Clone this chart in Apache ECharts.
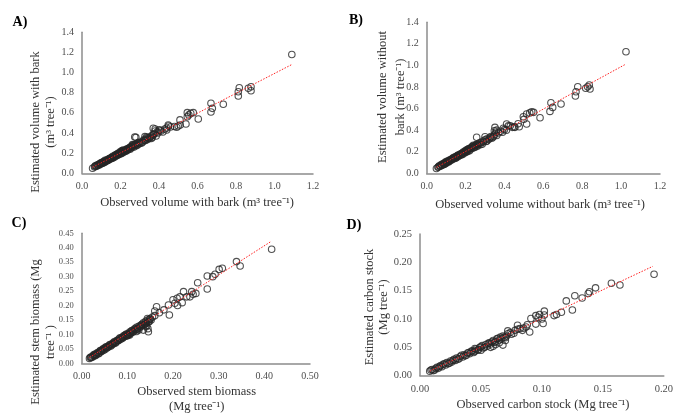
<!DOCTYPE html>
<html><head><meta charset="utf-8">
<script src="https://cdn.jsdelivr.net/npm/echarts@6/dist/echarts.min.js"></script>
<style>html,body{margin:0;padding:0;background:#fff}#c{width:676px;height:414px}</style>
</head><body><div id="c"></div>
<script>
// Panel A: observed vs estimated volume with bark
const pointsA = [
[0.055,0.05],[0.065,0.062],[0.07,0.075],[0.075,0.07],[0.08,0.085],[0.085,0.08],[0.09,0.092],[0.095,0.1],[0.1,0.095],[0.1,0.105],
[0.105,0.11],[0.11,0.105],[0.115,0.12],[0.12,0.115],[0.12,0.13],[0.125,0.125],[0.13,0.135],[0.135,0.13],[0.14,0.145],[0.14,0.135],
[0.145,0.15],[0.15,0.148],[0.155,0.16],[0.16,0.155],[0.16,0.17],[0.165,0.165],[0.17,0.175],[0.175,0.17],[0.18,0.185],[0.185,0.18],
[0.19,0.195],[0.19,0.2],[0.195,0.19],[0.2,0.205],[0.2,0.215],[0.205,0.2],[0.21,0.22],[0.21,0.21],[0.215,0.23],[0.22,0.215],
[0.225,0.225],[0.23,0.235],[0.235,0.23],[0.24,0.245],[0.245,0.25],[0.25,0.24],[0.255,0.265],[0.26,0.27],[0.265,0.28],[0.27,0.26],
[0.275,0.285],[0.28,0.29],[0.285,0.275],[0.274,0.36],[0.29,0.3],[0.3,0.295],[0.305,0.31],[0.31,0.3],[0.32,0.33],[0.325,0.325],
[0.33,0.34],[0.335,0.36],[0.34,0.335],[0.345,0.35],[0.35,0.345],[0.36,0.37],[0.365,0.355],[0.37,0.38],[0.375,0.39],[0.38,0.44],
[0.38,0.42],[0.385,0.37],[0.39,0.41],[0.395,0.4],[0.4,0.43],[0.41,0.42],[0.42,0.41],[0.43,0.44],[0.44,0.45],[0.45,0.47],
[0.46,0.46],[0.48,0.465],[0.5,0.47],[0.51,0.48],
[0.068,0.07],[0.078,0.075],[0.088,0.088],[0.092,0.085],[0.098,0.098],[0.108,0.1],[0.112,0.115],[0.118,0.11],[0.128,0.122],[0.132,0.128],
[0.138,0.14],[0.148,0.142],[0.152,0.155],[0.158,0.15],[0.168,0.16],[0.172,0.18],[0.178,0.178],[0.182,0.19],[0.188,0.185],[0.198,0.2],
[0.202,0.195],[0.208,0.225],[0.212,0.205],[0.218,0.222],[0.228,0.22],[0.232,0.24],[0.238,0.235],[0.248,0.255],[0.252,0.248],[0.258,0.255],
[0.262,0.285],[0.268,0.27],[0.278,0.275],[0.29,0.285],[0.295,0.305],[0.315,0.31],[0.33,0.325],[0.34,0.355],[0.355,0.36],[0.36,0.345],
[1.09,1.18],[0.878,0.86],[0.864,0.844],[0.878,0.82],[0.817,0.85],[0.812,0.81],[0.812,0.768],[0.734,0.685],[0.67,0.695],[0.677,0.645],
[0.67,0.609],[0.604,0.539],[0.578,0.602],[0.565,0.596],[0.547,0.602],[0.547,0.562],[0.54,0.49],[0.509,0.53],[0.492,0.457],[0.448,0.48],
[0.44,0.43],[0.405,0.43],[0.37,0.447],[0.37,0.39],[0.28,0.357],[0.327,0.364],[0.555,0.58]
];
const trendA = [[0.055,0.06],[1.09,1.08]];

// Panel B: observed vs estimated volume without bark
const pointsB = [
[0.05,0.045],[0.06,0.06],[0.065,0.07],[0.07,0.065],[0.075,0.08],[0.08,0.075],[0.085,0.09],[0.09,0.085],[0.095,0.1],[0.1,0.095],
[0.1,0.11],[0.105,0.105],[0.11,0.115],[0.115,0.11],[0.12,0.125],[0.125,0.12],[0.13,0.135],[0.135,0.14],[0.14,0.135],[0.145,0.15],
[0.15,0.145],[0.155,0.16],[0.16,0.165],[0.165,0.16],[0.17,0.175],[0.175,0.18],[0.18,0.175],[0.185,0.19],[0.19,0.2],[0.195,0.19],
[0.2,0.21],[0.205,0.2],[0.21,0.215],[0.215,0.225],[0.22,0.21],[0.225,0.23],[0.23,0.24],[0.235,0.25],[0.24,0.26],[0.245,0.24],
[0.25,0.26],[0.255,0.265],[0.26,0.25],[0.27,0.28],[0.28,0.285],[0.285,0.27],[0.29,0.3],[0.3,0.31],[0.305,0.295],[0.31,0.32],
[0.32,0.315],[0.33,0.34],[0.34,0.335],[0.35,0.36],[0.355,0.38],[0.36,0.35],[0.37,0.375],[0.38,0.39],[0.39,0.38],[0.4,0.405],
[0.41,0.4],[0.43,0.44],[0.45,0.43],[0.47,0.46],[0.5,0.5],
[0.058,0.055],[0.068,0.068],[0.078,0.078],[0.088,0.082],[0.092,0.095],[0.098,0.09],[0.108,0.11],[0.112,0.105],[0.118,0.12],[0.128,0.125],
[0.132,0.13],[0.138,0.145],[0.148,0.14],[0.152,0.155],[0.158,0.152],[0.162,0.17],[0.168,0.165],[0.178,0.17],[0.182,0.185],[0.188,0.18],
[0.198,0.205],[0.202,0.195],[0.208,0.22],[0.212,0.205],[0.218,0.23],[0.228,0.225],[0.238,0.235],[0.242,0.25],[0.248,0.245],[0.258,0.27],
[0.262,0.26],[0.268,0.27],[0.275,0.265],[0.292,0.29],[0.31,0.3],[0.325,0.33],[0.335,0.325],[0.345,0.345],
[1.025,1.127],[0.836,0.818],[0.828,0.803],[0.818,0.788],[0.84,0.781],[0.777,0.803],[0.768,0.756],[0.765,0.716],[0.691,0.642],[0.639,0.654],
[0.648,0.611],[0.634,0.574],[0.583,0.515],[0.54,0.571],[0.514,0.55],[0.497,0.525],[0.514,0.457],[0.476,0.432],[0.454,0.426],[0.44,0.426],
[0.411,0.457],[0.394,0.417],[0.351,0.426],[0.348,0.395],[0.257,0.334],[0.30,0.339],[0.53,0.56],[0.55,0.565],[0.42,0.44],[0.36,0.40]
];
const trendB = [[0.05,0.055],[1.025,1.013]];

// Panel C: observed vs estimated stem biomass
const pointsC = [
[0.017,0.017],[0.02,0.022],[0.022,0.02],[0.025,0.027],[0.028,0.025],[0.03,0.032],[0.032,0.03],[0.035,0.037],[0.038,0.035],[0.04,0.042],
[0.042,0.04],[0.045,0.047],[0.048,0.045],[0.05,0.052],[0.052,0.055],[0.055,0.053],[0.058,0.06],[0.06,0.058],[0.062,0.065],[0.065,0.063],
[0.068,0.07],[0.07,0.068],[0.072,0.075],[0.075,0.073],[0.078,0.08],[0.08,0.078],[0.082,0.085],[0.085,0.083],[0.088,0.09],[0.09,0.088],
[0.092,0.095],[0.095,0.098],[0.098,0.095],[0.1,0.102],[0.103,0.1],[0.105,0.108],[0.108,0.105],[0.11,0.113],[0.112,0.11],[0.115,0.118],
[0.118,0.115],[0.12,0.125],[0.122,0.12],[0.125,0.128],[0.128,0.13],[0.13,0.127],[0.132,0.135],[0.135,0.14],[0.138,0.135],[0.14,0.145],
[0.142,0.14],[0.145,0.15],[0.148,0.145],[0.15,0.155],[0.145,0.12],[0.155,0.16],[0.16,0.165],[0.135,0.115],[0.14,0.13],[0.12,0.11],[0.1,0.095],
[0.019,0.02],[0.024,0.023],[0.027,0.03],[0.031,0.028],[0.034,0.035],[0.037,0.033],[0.041,0.044],[0.044,0.042],[0.047,0.05],[0.051,0.048],
[0.054,0.057],[0.057,0.055],[0.061,0.063],[0.064,0.06],[0.067,0.066],[0.071,0.072],[0.074,0.07],[0.077,0.078],[0.081,0.08],[0.084,0.088],
[0.087,0.085],[0.091,0.09],[0.094,0.093],[0.097,0.1],[0.102,0.098],[0.106,0.104],[0.109,0.112],[0.113,0.108],[0.117,0.12],[0.121,0.118],
[0.126,0.123],[0.131,0.133],[0.136,0.132],[0.141,0.138],[0.146,0.142],[0.149,0.152],[0.152,0.15],[0.144,0.155],[0.125,0.115],[0.105,0.098],
[0.416,0.395],[0.339,0.352],[0.347,0.337],[0.308,0.329],[0.301,0.325],[0.292,0.308],[0.287,0.30],[0.275,0.302],[0.275,0.257],[0.254,0.279],
[0.25,0.242],[0.244,0.239],[0.237,0.23],[0.241,0.248],[0.223,0.248],[0.215,0.23],[0.209,0.225],[0.23,0.23],[0.204,0.208],[0.19,0.202],
[0.192,0.167],[0.21,0.20],[0.164,0.196],[0.16,0.181],[0.17,0.175],[0.146,0.109],[0.142,0.127],[0.22,0.21],[0.18,0.185],[0.2,0.22]
];
const trendC = [[0.017,0.02],[0.414,0.421]];

// Panel D: observed vs estimated carbon stock
const pointsD = [
[0.008,0.008],[0.01,0.011],[0.012,0.01],[0.014,0.015],[0.015,0.013],[0.017,0.018],[0.018,0.016],[0.02,0.021],[0.021,0.019],[0.022,0.023],
[0.024,0.022],[0.025,0.026],[0.026,0.024],[0.028,0.029],[0.029,0.027],[0.03,0.031],[0.032,0.03],[0.033,0.034],[0.035,0.033],[0.036,0.037],
[0.038,0.036],[0.04,0.041],[0.041,0.039],[0.043,0.044],[0.045,0.043],[0.046,0.047],[0.048,0.046],[0.05,0.051],[0.052,0.049],[0.054,0.055],
[0.055,0.052],[0.057,0.058],[0.058,0.056],[0.06,0.062],[0.062,0.06],[0.063,0.065],[0.065,0.063],[0.066,0.068],[0.068,0.07],[0.07,0.067],
[0.072,0.074],[0.075,0.073],[0.078,0.08],[0.082,0.083],[0.085,0.084],[0.06,0.052],[0.065,0.058],[0.05,0.045],[0.045,0.048],
[0.009,0.01],[0.011,0.009],[0.013,0.013],[0.016,0.016],[0.019,0.02],[0.023,0.021],[0.027,0.027],[0.031,0.029],[0.034,0.036],[0.037,0.035],
[0.039,0.04],[0.042,0.043],[0.044,0.041],[0.047,0.045],[0.049,0.05],[0.051,0.053],[0.053,0.05],[0.056,0.057],[0.059,0.06],[0.061,0.059],
[0.064,0.066],[0.067,0.065],[0.069,0.068],[0.071,0.07],[0.074,0.076],[0.077,0.075],[0.08,0.082],[0.084,0.08],[0.088,0.09],[0.062,0.055],
[0.058,0.05],[0.07,0.062],
[0.192,0.179],[0.164,0.16],[0.157,0.163],[0.144,0.155],[0.139,0.148],[0.138,0.145],[0.133,0.137],[0.127,0.141],[0.125,0.116],[0.12,0.132],
[0.116,0.112],[0.112,0.108],[0.110,0.106],[0.102,0.114],[0.102,0.107],[0.101,0.092],[0.095,0.091],[0.098,0.108],[0.091,0.101],[0.09,0.077],
[0.095,0.106],[0.087,0.086],[0.08,0.089],[0.072,0.079],[0.068,0.054],[0.1,0.1],[0.097,0.103]
];
const trendD = [[0.008,0.008],[0.191,0.193]];

const xTicksA = {min:0,max:1.2,interval:0.2,dec:1};
const yTicksA = {min:0,max:1.4,interval:0.2,dec:1};
const xTicksB = {min:0,max:1.2,interval:0.2,dec:1};
const yTicksB = {min:0,max:1.4,interval:0.2,dec:1};
const xTicksC = {min:0,max:0.5,interval:0.1,dec:2};
const yTicksC = {min:0,max:0.45,interval:0.05,dec:2};
const xTicksD = {min:0,max:0.2,interval:0.05,dec:2};
const yTicksD = {min:0,max:0.25,interval:0.05,dec:2};

const FONT = '"Liberation Serif","Times New Roman",serif';
const chart = echarts.init(document.getElementById('c'), null, {renderer:'canvas'});

function axis(t, gi, fs){
  return {type:'value', gridIndex:gi, min:t.min, max:t.max, interval:t.interval,
    axisLine:{show:true, lineStyle:{color:'#8c8c8c', width:1.5}},
    axisTick:{show:false}, splitLine:{show:false},
    axisLabel:{color:'#4d4d4d', fontFamily:FONT, fontSize:fs, margin:8,
      formatter:v=>Number(v).toFixed(t.dec)}};
}
const grids = [
  {left:82, top:32.3, width:231, height:141},
  {left:426.7, top:22.3, width:233.3, height:151},
  {left:81.7, top:233.3, width:228.3, height:130},
  {left:420, top:234, width:245, height:141.7}
];
const sets = [[pointsA,trendA],[pointsB,trendB],[pointsC,trendC],[pointsD,trendD]];
const series = [];
sets.forEach((s,i)=>{
  series.push({type:'scatter', xAxisIndex:i, yAxisIndex:i, data:s[0], symbol:'circle', symbolSize:6.5,
    itemStyle:{color:'rgba(255,255,255,0)', borderColor:'#262626', borderWidth:1.1}, silent:true, z:2});
  series.push({type:'line', xAxisIndex:i, yAxisIndex:i, data:s[1], symbol:'none',
    lineStyle:{color:'#ff2020', width:1, type:[1.5,1.5]}, silent:true, z:3});
});

function txt(x,y,text){
  return {type:'text', x:x, y:y, style:{text:text, fill:'#333', font:'12.5px '+FONT, textAlign:'center', textVerticalAlign:'middle'}};
}
function rtxt(x,y,text){
  return {type:'text', x:x, y:y, rotation:Math.PI/2, style:{text:text, fill:'#333', font:'12.5px '+FONT, textAlign:'center', textVerticalAlign:'middle'}};
}
function lbl(x,y,text){
  return {type:'text', x:x, y:y, style:{text:text, fill:'#000', font:'bold 14px '+FONT, textAlign:'center', textVerticalAlign:'middle'}};
}
const graphics = [
  lbl(20,22,'A)'), lbl(356,20,'B)'), lbl(19,223,'C)'), lbl(354,225,'D)'),
  rtxt(35.7,122,'Estimated volume with bark'), rtxt(50.7,122,'(m³ tree⁻¹)'),
  txt(197,203,'Observed volume with bark (m³ tree⁻¹)'),
  rtxt(383,97,'Estimated volume without'), rtxt(400.7,97,'bark (m³ tree⁻¹)'),
  txt(540,205,'Observed volume without bark (m³ tree⁻¹)'),
  rtxt(35.7,332,'Estimated stem biomass (Mg'), rtxt(50.7,342,'tree⁻¹ )'),
  txt(196.7,391.5,'Observed stem biomass'), txt(196.7,406.5,'(Mg tree⁻¹)'),
  rtxt(370,307,'Estimated carbon stock'), rtxt(384,307,'(Mg tree⁻¹)'),
  txt(543,405,'Observed carbon stock (Mg tree⁻¹)')
];

chart.setOption({
  animation:false, backgroundColor:'#fff',
  grid:grids,
  xAxis:[axis(xTicksA,0,10),axis(xTicksB,1,10),axis(xTicksC,2,10),axis(xTicksD,3,10.5)],
  yAxis:[axis(yTicksA,0,10),axis(yTicksB,1,10),axis(yTicksC,2,8.5),axis(yTicksD,3,10.5)],
  series:series,
  graphic:graphics
});
</script></body></html>
